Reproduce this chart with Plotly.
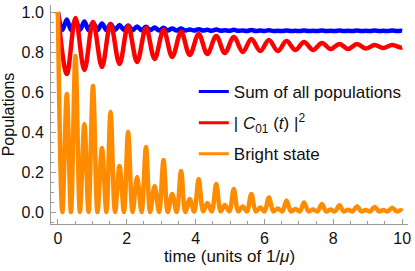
import plotly.graph_objects as go

# ---- data ----
# time grid at the extrema of the fast oscillations (units of 1/mu)
t_fast = [0.00, 0.13, 0.26, 0.38, 0.51, 0.64, 0.77, 0.89, 1.02, 1.15, 1.28, 1.41, 1.53, 1.66,
          1.79, 1.92, 2.04, 2.17, 2.30, 2.43, 2.56, 2.68, 2.81, 2.94, 3.07, 3.19, 3.32, 3.45,
          3.58, 3.70, 3.83, 3.96, 4.09, 4.22, 4.34, 4.47, 4.60, 4.73, 4.85, 4.98, 5.11, 5.24,
          5.37, 5.49, 5.62, 5.75, 5.88, 6.00, 6.13, 6.26, 6.39, 6.52, 6.64, 6.77, 6.90, 7.03,
          7.15, 7.28, 7.41, 7.54, 7.67, 7.79, 7.92, 8.05, 8.18, 8.30, 8.43, 8.56, 8.69, 8.81,
          8.94, 9.07, 9.20, 9.33, 9.45, 9.58, 9.71, 9.84, 9.96, 10.00]

sum_all = [1.000, 0.910, 0.962, 0.910, 0.958, 0.910, 0.952, 0.910, 0.948, 0.910, 0.943, 0.910,
           0.940, 0.910, 0.935, 0.910, 0.933, 0.909, 0.928, 0.909, 0.926, 0.909, 0.922, 0.908,
           0.921, 0.908, 0.917, 0.908, 0.917, 0.907, 0.913, 0.907, 0.914, 0.907, 0.911, 0.906,
           0.912, 0.906, 0.909, 0.906, 0.911, 0.906, 0.908, 0.905, 0.910, 0.905, 0.907, 0.905,
           0.909, 0.905, 0.906, 0.905, 0.908, 0.905, 0.906, 0.905, 0.908, 0.905, 0.906, 0.905,
           0.907, 0.905, 0.906, 0.905, 0.907, 0.905, 0.906, 0.905, 0.907, 0.905, 0.906, 0.905,
           0.907, 0.905, 0.906, 0.905, 0.907, 0.905, 0.906, 0.905]

bright = [1.000, 0.000, 0.590, 0.000, 0.780, 0.000, 0.440, 0.000, 0.630, 0.000, 0.320, 0.000,
          0.500, 0.000, 0.230, 0.000, 0.400, 0.000, 0.175, 0.000, 0.325, 0.000, 0.130, 0.000,
          0.260, 0.000, 0.090, 0.000, 0.205, 0.000, 0.065, 0.002, 0.165, 0.003, 0.045, 0.003,
          0.140, 0.003, 0.035, 0.003, 0.115, 0.003, 0.028, 0.003, 0.090, 0.003, 0.022, 0.003,
          0.072, 0.003, 0.018, 0.003, 0.057, 0.003, 0.015, 0.003, 0.048, 0.003, 0.013, 0.003,
          0.040, 0.003, 0.012, 0.003, 0.034, 0.003, 0.011, 0.003, 0.029, 0.003, 0.010, 0.003,
          0.025, 0.003, 0.010, 0.003, 0.021, 0.003, 0.009, 0.004]

# |C01(t)|^2 extrema (slower oscillation)
t_slow = [0.00, 0.26, 0.51, 0.77, 1.02, 1.28, 1.53, 1.79, 2.04, 2.30, 2.56, 2.81, 3.07, 3.32,
          3.58, 3.83, 4.09, 4.34, 4.60, 4.85, 5.11, 5.37, 5.62, 5.88, 6.13, 6.39, 6.64, 6.90,
          7.15, 7.41, 7.67, 7.92, 8.18, 8.43, 8.69, 8.94, 9.20, 9.45, 9.71, 9.96, 10.00]
c01 = [1.000, 0.690, 0.970, 0.710, 0.950, 0.725, 0.940, 0.740, 0.930, 0.750, 0.920, 0.765,
       0.910, 0.775, 0.900, 0.785, 0.890, 0.790, 0.880, 0.795, 0.875, 0.800, 0.865, 0.805,
       0.860, 0.805, 0.855, 0.810, 0.850, 0.810, 0.845, 0.815, 0.840, 0.815, 0.840, 0.817,
       0.835, 0.820, 0.835, 0.822, 0.823]

x_ticks = [0, 2, 4, 6, 8, 10]
y_ticks = [0.0, 0.2, 0.4, 0.6, 0.8, 1.0]

names = ["Sum of all populations",
         "| <i>C</i><sub>01</sub> (<i>t</i>) |<sup>2</sup>",
         "Bright state"]
colors = ["#0000FF", "#FF0000", "#FF8C00"]

FONT = "Liberation Sans, Arial, sans-serif"
TXT = "#111111"
AX = "#9a9a9a"

fig = go.Figure()
series = [(t_fast, sum_all), (t_slow, c01), (t_fast, bright)]
for (xs, ys), c in zip(series, colors):
    fig.add_trace(go.Scatter(x=xs, y=ys, mode="lines", line=dict(color=c, width=4.5, shape="spline"),
                             showlegend=False, hoverinfo="skip"))
# legend entries with thinner swatches
for i, (nm, c) in enumerate(zip(names, colors)):
    fig.add_trace(go.Scatter(x=[None], y=[None], mode="lines", name=nm,
                             line=dict(color=c, width=3), legendgroup=f"g{i}"))

fig.update_layout(
    width=415, height=271,
    margin=dict(l=49, r=4, t=5, b=47),
    paper_bgcolor="white", plot_bgcolor="white",
    font=dict(family=FONT, size=16, color=TXT),
    legend=dict(x=0.40, y=0.685, xanchor="left", yanchor="top",
                bgcolor="rgba(0,0,0,0)", font=dict(size=17, color=TXT),
                tracegroupgap=6, itemwidth=30),
    xaxis=dict(range=[-0.2, 10.17], showline=True, linecolor=AX, linewidth=1,
               ticks="inside", ticklen=5, tickcolor=AX, tickvals=x_ticks,
               minor=dict(dtick=0.5, ticks="inside", ticklen=3, tickcolor=AX),
               showgrid=False, zeroline=False, ticklabelstandoff=0,
               tickfont=dict(size=16, color=TXT),
               title=dict(text="time (units of 1/<i>μ</i>)", standoff=2,
                          font=dict(size=17, color=TXT))),
    yaxis=dict(range=[-0.06, 1.035], showline=True, linecolor=AX, linewidth=1,
               ticks="inside", ticklen=5, tickcolor=AX, tickvals=y_ticks, tickformat=".1f",
               minor=dict(dtick=0.05, ticks="inside", ticklen=3, tickcolor=AX),
               showgrid=False, zeroline=False, ticklabelstandoff=3,
               tickfont=dict(size=16, color=TXT),
               title=dict(text="Populations", standoff=6, font=dict(size=16, color=TXT))),
)

fig.write_html("out.html", config={"displayModeBar": False},
               post_script="document.body.style.margin='0';document.body.style.padding='0';")
